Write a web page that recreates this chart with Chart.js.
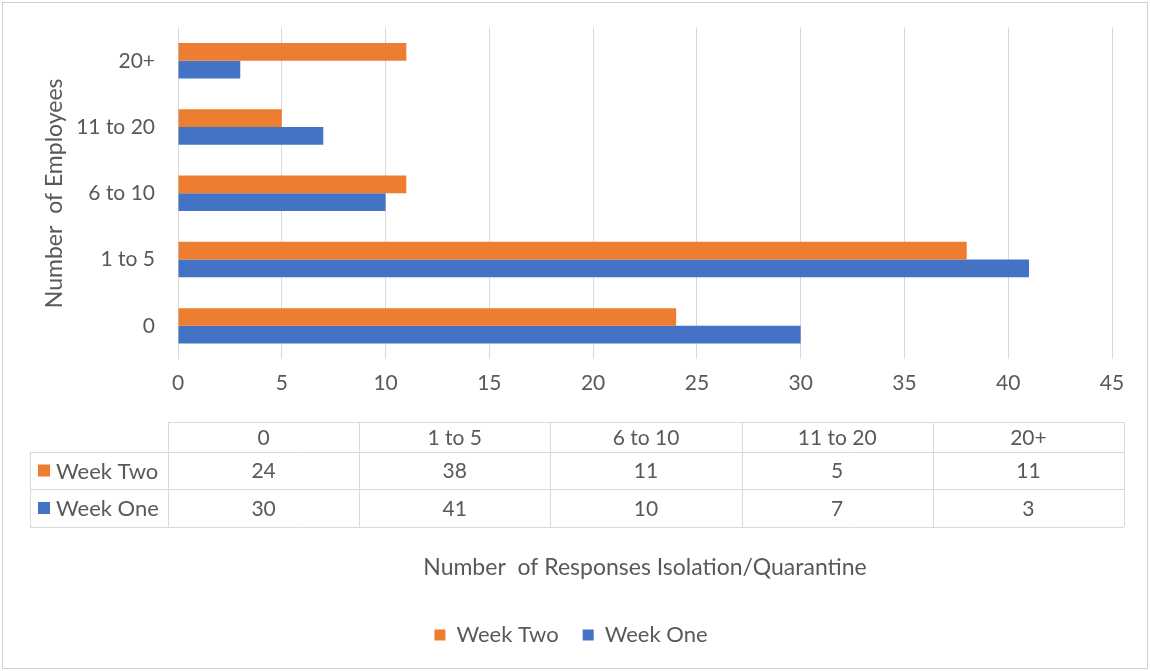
<!DOCTYPE html>
<html>
<head>
<meta charset="utf-8">
<script src="https://cdn.jsdelivr.net/npm/chart.js@4/dist/chart.umd.min.js"></script>
<style>
  body { margin: 0; background: #fff; }
  #wrap { width: 1150px; height: 671px; position: relative; }
</style>
</head>
<body>
<div id="wrap"><canvas id="chart"></canvas></div>
<script>
// categories (bottom to top on the chart)
const categories = ['0', '1 to 5', '6 to 10', '11 to 20', '20+'];
const weekTwo = [24, 38, 11, 5, 11];
const weekOne = [30, 41, 10, 7, 3];
const xTicks = [0, 5, 10, 15, 20, 25, 30, 35, 40, 45];

const textColor = '#595959';
const gridColor = '#d9d9d9';
const orange = '#ED7D31';
const blue = '#4472C4';
const fontFamily = 'Lato, "Open Sans", sans-serif';

// outer frame + data table under the x axis
const tablePlugin = {
  id: 'dataTable',
  beforeDraw(chart) {
    const ctx = chart.ctx;
    ctx.save();
    ctx.strokeStyle = '#d0d0d0';
    ctx.lineWidth = 1;
    ctx.strokeRect(2.5, 2.5, chart.width - 5, chart.height - 5);
    ctx.restore();
  },
  afterDraw(chart) {
    const ctx = chart.ctx;
    const xs = chart.scales.x;
    const left = 30, headRight = 168, right = 1124;
    const top = xs.top + 63;
    const rows = [top, top + 30, top + 67, top + 105];
    const colW = (right - headRight) / categories.length;
    ctx.save();
    ctx.strokeStyle = gridColor;
    ctx.lineWidth = 1;
    ctx.beginPath();
    ctx.moveTo(headRight, rows[0] + 0.5); ctx.lineTo(right, rows[0] + 0.5);
    for (let i = 1; i < rows.length; i++) {
      ctx.moveTo(left, rows[i] + 0.5); ctx.lineTo(right, rows[i] + 0.5);
    }
    ctx.moveTo(left + 0.5, rows[1]); ctx.lineTo(left + 0.5, rows[3]);
    for (let c = 0; c <= categories.length; c++) {
      const x = Math.round(headRight + c * colW) + 0.5;
      ctx.moveTo(x, rows[0]); ctx.lineTo(x, rows[3]);
    }
    ctx.stroke();

    ctx.font = '21px ' + fontFamily;
    ctx.fillStyle = textColor;
    ctx.textAlign = 'center';
    ctx.textBaseline = 'middle';
    const series = [
      { name: 'Week Two', color: orange, data: weekTwo },
      { name: 'Week One', color: blue, data: weekOne }
    ];
    categories.forEach((cat, c) => {
      const cx = headRight + (c + 0.5) * colW;
      ctx.fillText(cat, cx, (rows[0] + rows[1]) / 2 + 1);
      series.forEach((s, r) => {
        ctx.fillText(String(s.data[c]), cx, (rows[r + 1] + rows[r + 2]) / 2 + 1);
      });
    });
    ctx.font = '22px ' + fontFamily;
    series.forEach((s, r) => {
      const cy = (rows[r + 1] + rows[r + 2]) / 2;
      ctx.fillStyle = s.color;
      ctx.fillRect(38, cy - 6, 12, 12);
      ctx.fillStyle = textColor;
      ctx.textAlign = 'left';
      ctx.fillText(s.name, 56, cy + 1);
    });
    ctx.restore();
  }
};

new Chart(document.getElementById('chart'), {
  type: 'bar',
  data: {
    labels: categories,
    datasets: [
      { label: 'Week Two', data: weekTwo, backgroundColor: orange,
        barPercentage: 1, categoryPercentage: 0.535 },
      { label: 'Week One', data: weekOne, backgroundColor: blue,
        barPercentage: 1, categoryPercentage: 0.535 }
    ]
  },
  options: {
    indexAxis: 'y',
    responsive: true,
    maintainAspectRatio: false,
    animation: false,
    layout: { padding: { top: 24, right: 38, bottom: 15, left: 30 } },
    plugins: {
      legend: {
        position: 'bottom',
        labels: {
          boxWidth: 11, boxHeight: 11, padding: 24,
          color: textColor, font: { family: fontFamily, size: 22 }
        }
      },
      tooltip: { enabled: false }
    },
    scales: {
      x: {
        min: 0, max: 45,
        afterBuildTicks: (scale) => { scale.ticks = xTicks.map(v => ({ value: v })); },
        afterFit: (scale) => { scale.height = 241; },
        grid: { color: gridColor, drawTicks: false },
        border: { display: false },
        ticks: { color: textColor, padding: 12, font: { family: fontFamily, size: 21 } },
        title: {
          display: true, text: 'Number  of Responses Isolation/Quarantine',
          color: textColor, font: { family: fontFamily, size: 23 },
          padding: { top: 0, bottom: 19 }
        }
      },
      y: {
        reverse: true,
        afterFit: (scale) => { scale.width = 148; },
        grid: { display: false },
        border: { display: false },
        ticks: { color: textColor, padding: 15, font: { family: fontFamily, size: 21 } },
        title: {
          display: true, text: 'Number  of Employees',
          color: textColor, font: { family: fontFamily, size: 23 },
          padding: { top: 11, bottom: 0 }
        }
      }
    }
  },
  plugins: [tablePlugin]
});
</script>
</body>
</html>
